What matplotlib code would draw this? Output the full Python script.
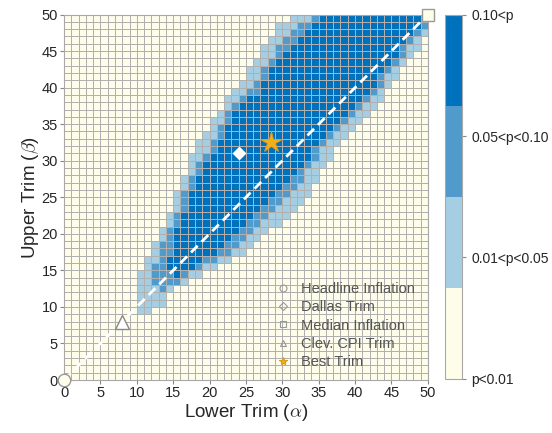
import numpy as np
import matplotlib
matplotlib.use("Agg")
import matplotlib.pyplot as plt
from matplotlib.colors import ListedColormap, Normalize
from matplotlib.cm import ScalarMappable

# ---- data: per-row band edges (cell index, end exclusive) ----------------------------------
N = 50
ROWS        = list(range(9, 50))
LIGHT_START = [10, 10, 10, 10, 10, 10, 11, 11, 12, 12, 13, 13, 14, 14, 15, 15, 15, 16, 16, 17,
               17, 17, 18, 18, 19, 20, 20, 21, 22, 22, 23, 24, 25, 25, 26, 27, 27, 28, 29, 29, 31]
MED_START   = [12, 14, 14, 13, 12, 12, 12, 13, 13, 13, 14, 14, 15, 15, 16, 16, 16, 17, 17, 18,
               18, 19, 20, 20, 21, 21, 22, 22, 23, 24, 25, 26, 27, 27, 28, 29, 29, 30, 31, 32, 34]
DARK_START  = [12, 14, 14, 14, 15, 15, 14, 14, 15, 15, 15, 15, 16, 16, 17, 17, 17, 18, 18, 19,
               19, 20, 21, 21, 22, 22, 23, 23, 24, 25, 27, 27, 28, 28, 29, 30, 31, 32, 33, 34, 35]
DARK_END    = [12, 14, 14, 14, 15, 16, 18, 19, 21, 22, 23, 24, 25, 26, 27, 28, 29, 30, 31, 32,
               33, 34, 34, 35, 36, 37, 38, 39, 40, 41, 42, 43, 43, 44, 45, 46, 46, 47, 48, 49, 50]
MED_END     = [12, 14, 14, 14, 16, 17, 19, 21, 23, 24, 25, 26, 27, 28, 29, 30, 31, 32, 33, 33,
               34, 35, 35, 36, 37, 38, 39, 40, 41, 42, 43, 44, 44, 45, 46, 47, 47, 48, 49, 50, 50]
LIGHT_END   = [12, 14, 14, 15, 17, 19, 21, 23, 25, 26, 27, 28, 30, 31, 32, 33, 34, 34, 35, 35,
               36, 37, 37, 38, 39, 40, 41, 42, 43, 44, 44, 45, 46, 46, 47, 48, 49, 49, 50, 50, 50]

# reference trims (alpha, beta)
MARK_NAMES = ["Headline Inflation", "Dallas Trim", "Median Inflation", "Clev. CPI Trim", "Best Trim"]
MARK_ALPHA = [0, 24, 50, 8, 28.4]
MARK_BETA  = [0, 31, 50, 8, 32.6]

CBAR_LABELS = ["p<0.01", "0.01<p<0.05", "0.05<p<0.10", "0.10<p"]

# ---- build the category grid ---------------------------------------------------------------
C = np.zeros((N, N))
for j, l1, l2, l3, r3, r2, r1 in zip(ROWS, LIGHT_START, MED_START, DARK_START,
                                     DARK_END, MED_END, LIGHT_END):
    C[j, l1:r1] = 1
    C[j, l2:l3] = 2
    C[j, r3:r2] = 2
    C[j, l3:r3] = 3

COLORS = ["#FDFDEA", "#A6CEE3", "#519BCC", "#0072BD"]
cmap = ListedColormap(COLORS)
norm = Normalize(0, 3)

plt.rcParams.update({"font.family": ["Liberation Sans", "DejaVu Sans"],
                     "mathtext.fontset": "cm"})
fig = plt.figure(figsize=(5.52, 4.33), dpi=100)
ax = fig.add_axes([0.116, 0.1224, 0.659, 0.844])

edges = np.arange(N + 1)
ax.pcolormesh(edges, edges, C, cmap=cmap, norm=norm, edgecolors="#B0B0B0", linewidth=0.5)

ax.plot([0, 50], [0, 50], color="white", lw=2, dashes=(3.4, 2.0), zorder=3)

mk = dict(clip_on=False, zorder=5, linestyle="none")
ax.plot(MARK_ALPHA[0], MARK_BETA[0], marker="o", ms=9, mfc="#FDFDEA", mec="#999999", mew=1, **mk)
ax.plot(MARK_ALPHA[1], MARK_BETA[1], marker="D", ms=6, mfc="white", mec="white", mew=1, **mk)
ax.plot(MARK_ALPHA[2], MARK_BETA[2], marker="s", ms=8, mfc="#FDFDEA", mec="#999999", mew=1, **mk)
ax.plot(MARK_ALPHA[3], MARK_BETA[3], marker="^", ms=10, mfc="white", mec="#888888", mew=1, **mk)
ax.plot(MARK_ALPHA[4], MARK_BETA[4], marker="*", ms=16, mfc="#F2AE1C", mec="#E09A10", mew=0.6, **mk)

# legend with small outlined markers
h = [plt.Line2D([], [], ls="none", marker=m, ms=s, mfc=fc, mec=ec, mew=0.8)
     for m, s, fc, ec in [("o", 5, "none", "#999999"), ("D", 4.5, "none", "#999999"),
                          ("s", 4.5, "none", "#999999"), ("^", 5, "none", "#999999"),
                          ("*", 6, "#F2AE1C", "#E09A10")]]
leg = ax.legend(h, MARK_NAMES, loc="lower right", bbox_to_anchor=(1.0, -0.005), frameon=False,
                fontsize=10.5, handletextpad=0.6, labelspacing=0.28, handlelength=1.2)
for t in leg.get_texts():
    t.set_color("#555555")

ax.set_xlim(0, 50); ax.set_ylim(0, 50)
ax.set_xticks(range(0, 51, 5)); ax.set_yticks(range(0, 51, 5))
ax.tick_params(direction="out", length=3, pad=1.5, color="#888888", labelsize=10.5,
               labelcolor="#262626")
for s in ax.spines.values():
    s.set_color("#A8A8A8"); s.set_linewidth(0.8)
ax.set_xlabel(r"Lower Trim ($\alpha$)", fontsize=13.5, color="#262626", labelpad=1)
ax.set_ylabel(r"Upper Trim ($\beta$)", fontsize=13.5, color="#262626", labelpad=0)

cax = fig.add_axes([0.806, 0.1255, 0.031, 0.84])
cb = fig.colorbar(ScalarMappable(norm=norm, cmap=cmap), cax=cax, ticks=[0, 1, 2, 3])
cb.ax.set_yticklabels(CBAR_LABELS)
cb.ax.tick_params(length=3, color="#888888", labelsize=10, labelcolor="#262626")
cb.outline.set_edgecolor("#A8A8A8")

fig.savefig("out.png", dpi=100)
